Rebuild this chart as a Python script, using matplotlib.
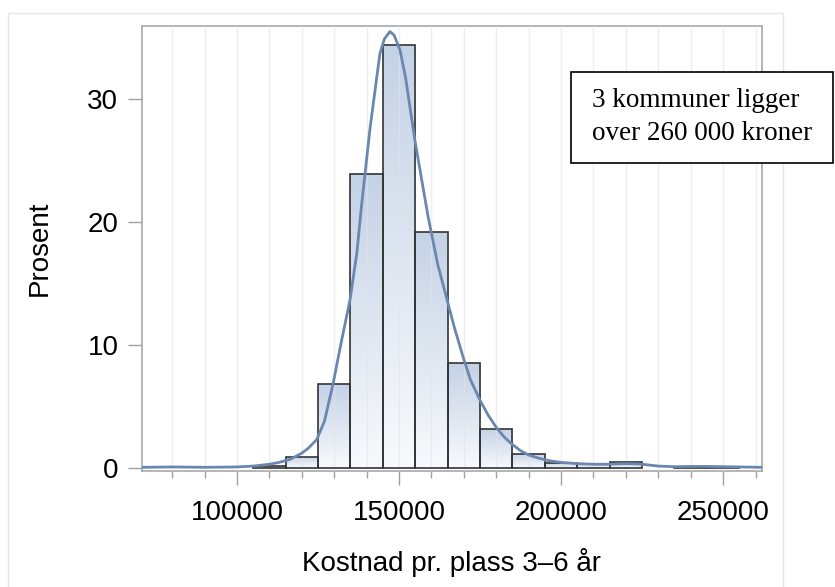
import numpy as np
import matplotlib
matplotlib.use('Agg')
import matplotlib.pyplot as plt
from matplotlib.colors import LinearSegmentedColormap
from matplotlib.patches import Rectangle

# data
bin_left = [105000, 115000, 125000, 135000, 145000, 155000, 165000, 175000,
            185000, 195000, 205000, 215000, 235000, 245000]
bin_pct = [0.15, 0.9, 6.8, 23.9, 34.4, 19.2, 8.5, 3.2,
           1.15, 0.4, 0.3, 0.45, 0.1, 0.1]
bin_width = 10000

# density curve (scaled to percent) read point by point
kde_x = [71000, 80000, 90000, 100000, 105000, 110000, 113000, 116400, 120000,
         122000, 124600, 127000, 129700, 132000, 134900, 137000, 138300, 141000,
         143000, 144100, 145500, 147200, 148500, 150300, 152000, 153400, 155000,
         156500, 159000, 162000, 164800, 167000, 169800, 172000, 175000, 177500,
         180000, 182500, 185000, 187500, 190000, 193000, 196000, 200000, 205000,
         210000, 215000, 220000, 225000, 230000, 235000, 240000, 245000, 250000,
         255000, 262000]
kde_y = [0.05, 0.08, 0.05, 0.08, 0.15, 0.3, 0.45, 0.7, 1.2,
         1.6, 2.3, 3.8, 6.9, 10.0, 13.7, 17.5, 21.0, 27.5,
         31.5, 33.7, 34.9, 35.5, 35.2, 34.0, 31.8, 29.3, 26.5,
         24.2, 20.4, 16.5, 13.7, 11.5, 9.0, 7.2, 5.5, 4.3,
         3.3, 2.5, 1.9, 1.4, 1.05, 0.8, 0.6, 0.45, 0.35,
         0.3, 0.3, 0.35, 0.3, 0.15, 0.1, 0.12, 0.12, 0.1,
         0.08, 0.05]

x_ticks = [100000, 150000, 200000, 250000]
y_ticks = [0, 10, 20, 30]
note = '3 kommuner ligger\nover 260 000 kroner'

plt.rcParams['font.family'] = ['Liberation Sans', 'DejaVu Sans']

fig = plt.figure(figsize=(8.35, 5.87), dpi=100)
ax = fig.add_axes([142 / 835, 1 - 471 / 587, 620 / 835, 445 / 587])

# light vertical grid every 10000
for gx in range(80000, 270000, 10000):
    ax.axvline(gx, color='#e4e4e4', lw=1, zorder=3, alpha=0.6)

# bars with vertical gradient fill
grad_cmap = LinearSegmentedColormap.from_list('g', ['#f8fafd', '#c4d2e6'])
bars = ax.bar(bin_left, bin_pct, width=bin_width, align='edge',
              facecolor='none', edgecolor='#333333', linewidth=1.2, zorder=4)
gradient = np.linspace(1, 0, 256).reshape(-1, 1)
for b in bars:
    x0 = b.get_x()
    im = ax.imshow(gradient, extent=[x0, x0 + b.get_width(), 0, b.get_height()],
                   aspect='auto', cmap=grad_cmap, zorder=2, interpolation='bilinear')
    im.set_clip_path(b)

ax.plot(kde_x, kde_y, color='#6a87b0', lw=2.0, zorder=5)

ax.set_xlim(70700, 262000)
ax.set_ylim(-0.25, 35.95)
ax.set_aspect('auto')

ax.set_xticks(x_ticks)
ax.set_xticks(range(80000, 262000, 10000), minor=True)
ax.set_yticks(y_ticks)
ax.tick_params(axis='both', which='major', labelsize=20, length=10, width=1,
               color='#a0a0a0', pad=7)
ax.tick_params(axis='x', which='minor', length=5, width=1, color='#a0a0a0')
ax.tick_params(axis='x', which='major', pad=11)
for s in ax.spines.values():
    s.set_color('#a8a8a8')
    s.set_linewidth(1.2)

ax.set_xlabel('Kostnad pr. plass 3–6 år', fontsize=20, labelpad=16)
ax.set_ylabel('Prosent', fontsize=20, labelpad=25)

# outer light frame
fig.add_artist(Rectangle((8 / 835, -0.02), 775 / 835, 1 - 13 / 587 + 0.02,
                         transform=fig.transFigure, fill=False,
                         edgecolor='#e6e6e6', lw=1))

# annotation box
fig.add_artist(Rectangle((571 / 835, 1 - 163 / 587), 262 / 835, 91 / 587,
                         transform=fig.transFigure, facecolor='white',
                         edgecolor='black', lw=1.2, zorder=10))
fig.text(592 / 835, 1 - 117 / 587, note, fontsize=19.5, va='center', ha='left',
         family=['Liberation Serif', 'DejaVu Serif'], linespacing=1.45, zorder=11)

fig.savefig('out.png', dpi=100)
